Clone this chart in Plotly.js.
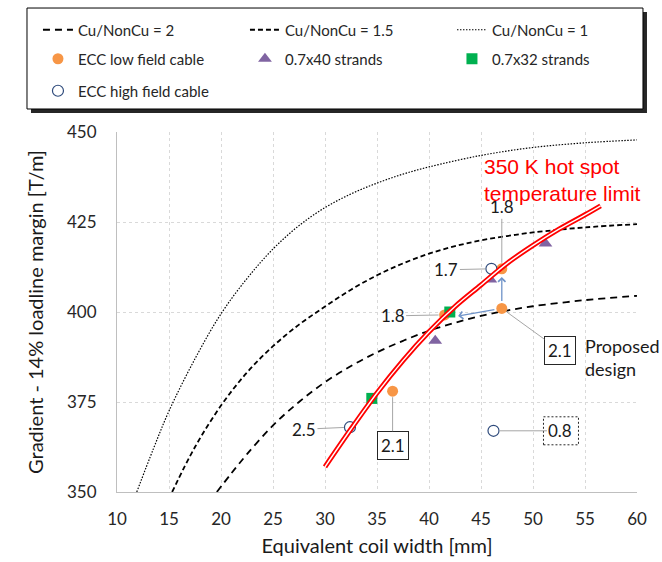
<!DOCTYPE html>
<html>
<head>
<meta charset="utf-8">
<script src="https://cdn.plot.ly/plotly-3.0.1.min.js"></script>
<style>html,body{margin:0;padding:0;background:#fff;}#chart{width:662px;height:562px;}</style>
</head>
<body>
<div id="chart"></div>
<script>
// ---- Data ----
const cu2X  = [19.6, 21, 22.5, 25, 27.5, 30, 32.5, 35, 37.5, 40, 42.5, 45, 47.5, 50, 55, 60];
const cu2Y  = [350, 355.2, 360.5, 368.5, 375, 380.5, 385, 388.8, 392, 394.8, 397, 398.9, 400.4, 401.6, 403.3, 404.5];
const cu15X = [15.3, 17.5, 20, 22.5, 25, 27.5, 30, 32.5, 35, 37.5, 40, 42.5, 45, 47.5, 50, 55, 60];
const cu15Y = [350, 362.5, 374, 383.2, 390.5, 396.5, 401.5, 406.2, 410.2, 413.5, 416.2, 418.3, 419.9, 421.1, 422.1, 423.5, 424.4];
const cu1X  = [11.9, 13.5, 15, 17.5, 20, 22.5, 25, 27.5, 30, 32.5, 35, 37.5, 40, 45, 50, 55, 60];
const cu1Y  = [350, 362, 372.5, 387, 399.5, 409.3, 417.5, 424, 429, 432.8, 435.8, 438.3, 440.3, 443.5, 445.7, 447, 447.8];
const limitX = [30, 32.5, 35, 37.5, 40, 42.5, 45, 47.5, 50, 52.5, 55, 56.5];
const limitY = [357, 367.5, 377.5, 386.5, 394.5, 401.5, 407.5, 413.5, 418.5, 423, 427, 429.5];

const lowFieldX = [36.5, 41.5, 47, 47];
const lowFieldY = [378, 399.2, 401, 412];
const lowFieldLabels = ['2.1', '1.8', '2.1', '1.8'];
const strands40X = [40.6, 45.9, 51.2];
const strands40Y = [392, 409, 419];
const strands32X = [34.5, 42];
const strands32Y = [376, 400];
const highFieldX = [32.4, 46, 46.2];
const highFieldY = [368, 412, 367];
const highFieldLabels = ['2.5', '1.7', '0.8'];

const xTicks = [10, 15, 20, 25, 30, 35, 40, 45, 50, 55, 60];
const yTicks = [350, 375, 400, 425, 450];

const seriesNames = ['Cu/NonCu = 2', 'Cu/NonCu = 1.5', 'Cu/NonCu = 1',
  'ECC low field cable', '0.7x40 strands', '0.7x32 strands', 'ECC high field cable'];

// ---- Traces ----
const traces = [
  {x: cu2X, y: cu2Y, name: seriesNames[0], mode: 'lines', line: {color: '#000', width: 1.8, dash: '7px,5px', shape: 'spline'}, legend: 'legend'},
  {x: cu15X, y: cu15Y, name: seriesNames[1], mode: 'lines', line: {color: '#000', width: 1.8, dash: '5px,3px', shape: 'spline'}, legend: 'legend'},
  {x: cu1X, y: cu1Y, name: seriesNames[2], mode: 'lines', line: {color: '#000', width: 1.2, dash: '1.5px,1.5px', shape: 'spline'}, legend: 'legend'},
  {x: lowFieldX, y: lowFieldY, name: seriesNames[3], mode: 'markers', marker: {symbol: 'circle', size: 11, color: '#f79646'}, legend: 'legend2'},
  {x: strands40X, y: strands40Y, name: seriesNames[4], mode: 'markers', marker: {symbol: 'triangle-up', size: 12, color: '#8064a2'}, legend: 'legend2'},
  {x: strands32X, y: strands32Y, name: seriesNames[5], mode: 'markers', marker: {symbol: 'square', size: 11, color: '#00b050'}, legend: 'legend2'},
  {x: highFieldX, y: highFieldY, name: seriesNames[6], mode: 'markers', marker: {symbol: 'circle-open', size: 11, color: '#2f4b7c', line: {width: 1.2}}, legend: 'legend3'},
  {x: limitX, y: limitY, mode: 'lines', line: {color: '#ff0000', width: 5, shape: 'spline'}, showlegend: false, hoverinfo: 'skip'},
  {x: limitX, y: limitY, mode: 'lines', line: {color: '#ffffff', width: 1.4, shape: 'spline'}, showlegend: false, hoverinfo: 'skip'}
];

// ---- Annotations ----
const numFont = {family: 'Lato, sans-serif', size: 17, color: '#1a1a1a'};
const leader = {showarrow: true, arrowhead: 0, arrowwidth: 1, arrowcolor: '#a6a6a6', standoff: 6, font: numFont};
const annotations = [
  Object.assign({x: lowFieldX[0], y: lowFieldY[0], text: lowFieldLabels[0], ax: 0, ay: 54,
    bordercolor: '#262626', borderwidth: 1, borderpad: 3, bgcolor: '#fff'}, leader),
  Object.assign({x: lowFieldX[1], y: lowFieldY[1], text: lowFieldLabels[1], ax: -52, ay: 1}, leader),
  Object.assign({x: lowFieldX[2], y: lowFieldY[2], text: lowFieldLabels[2], ax: 58, ay: 42,
    bordercolor: '#262626', borderwidth: 1, borderpad: 3, bgcolor: '#fff'}, leader),
  Object.assign({x: lowFieldX[3], y: lowFieldY[3], text: lowFieldLabels[3], ax: 0, ay: -62}, leader),
  Object.assign({x: highFieldX[0], y: highFieldY[0], text: highFieldLabels[0], ax: -46, ay: 2}, leader),
  Object.assign({x: highFieldX[1], y: highFieldY[1], text: highFieldLabels[1], ax: -45, ay: 1}, leader),
  Object.assign({x: highFieldX[2], y: highFieldY[2], text: highFieldLabels[2], ax: 67, ay: 0}, leader),
  // blue arrows from the proposed design
  {x: lowFieldX[2], y: 409.7, ax: lowFieldX[2], ay: lowFieldY[2], axref: 'x', ayref: 'y', text: '',
   showarrow: true, arrowhead: 4, arrowsize: 1.1, arrowwidth: 1.3, arrowcolor: '#6f93c8', startstandoff: 6},
  {x: 42.8, y: 398.9, ax: lowFieldX[2], ay: lowFieldY[2], axref: 'x', ayref: 'y', text: '',
   showarrow: true, arrowhead: 4, arrowsize: 1.1, arrowwidth: 1.3, arrowcolor: '#6f93c8', startstandoff: 6},
  {x: 54.8, y: 387.5, xanchor: 'left', yanchor: 'middle', text: 'Proposed<br>design', showarrow: false,
   align: 'left', font: {family: 'Lato, sans-serif', size: 18, color: '#1a1a1a'}},
  {x: 45.1, y: 436.8, xanchor: 'left', yanchor: 'middle', text: '350 K hot spot<br>temperature limit', showarrow: false,
   align: 'left', font: {family: 'Liberation Sans, Arial, sans-serif', size: 21, color: '#ff0000'}}
];

// ---- Shapes: legend box with shadow, dashed box for 0.8 ----
const shapes = [
  {type: 'rect', xref: 'paper', yref: 'paper', x0: -0.1654, x1: 1.0192, y0: 1.0528, y1: 1.3333,
   fillcolor: '#262626', line: {width: 0}, layer: 'above'},
  {type: 'rect', xref: 'paper', yref: 'paper', x0: -0.1731, x1: 1.0115, y0: 1.0639, y1: 1.3444,
   fillcolor: '#ffffff', line: {color: '#000', width: 1}, layer: 'above'},
  {type: 'rect', xref: 'x', yref: 'y', xsizemode: 'pixel', ysizemode: 'pixel',
   xanchor: highFieldX[2], yanchor: highFieldY[2], x0: 50, x1: 85, y0: -14, y1: 14,
   line: {color: '#262626', width: 1, dash: '2px,2px'}, fillcolor: 'rgba(0,0,0,0)', layer: 'above'}
];

const legendBase = {orientation: 'h', xanchor: 'left', yanchor: 'middle', x: -0.152,
  bgcolor: 'rgba(0,0,0,0)', borderwidth: 0, entrywidth: 162, entrywidthmode: 'pixels',
  font: {family: 'Lato, sans-serif', size: 15, color: '#262626'}, traceorder: 'normal'};

const layout = {
  width: 662, height: 562,
  margin: {l: 117, r: 25, t: 132, b: 70, autoexpand: false},
  paper_bgcolor: '#fff', plot_bgcolor: '#fff',
  font: {family: 'Lato, sans-serif', color: '#262626'},
  showlegend: true,
  xaxis: {range: [10, 60], tickvals: xTicks, showgrid: true, gridcolor: '#d9d9d9', griddash: 'dot', gridwidth: 1,
    showline: true, linecolor: '#bfbfbf', linewidth: 1, zeroline: false, ticks: '', ticklabelstandoff: 12,
    tickfont: {size: 17, color: '#262626'},
    title: {text: 'Equivalent coil width [mm]', font: {size: 20, color: '#1a1a1a'}, standoff: 10}},
  yaxis: {range: [350, 450], tickvals: yTicks, showgrid: true, gridcolor: '#d9d9d9', griddash: 'dot', gridwidth: 1,
    showline: true, linecolor: '#bfbfbf', linewidth: 1, zeroline: false, ticks: '', ticklabelstandoff: 16,
    tickfont: {size: 17, color: '#262626'},
    title: {text: 'Gradient - 14% loadline margin [T/m]', font: {size: 20, color: '#1a1a1a'}, standoff: 18}},
  legend: Object.assign({}, legendBase, {y: 1.2833}),
  legend2: Object.assign({}, legendBase, {y: 1.2028}),
  legend3: Object.assign({}, legendBase, {y: 1.1139}),
  shapes: shapes,
  annotations: annotations
};

Plotly.newPlot('chart', traces, layout, {staticPlot: true, displayModeBar: false});
</script>
</body>
</html>
